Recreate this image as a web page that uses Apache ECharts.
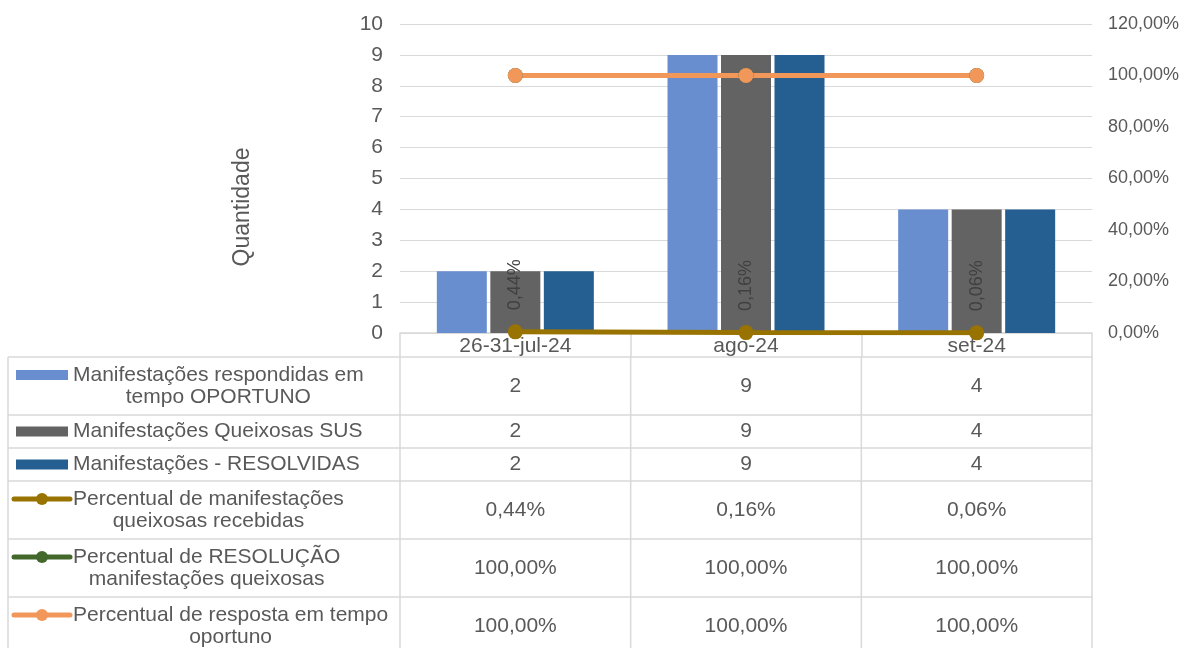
<!DOCTYPE html>
<html><head><meta charset="utf-8">
<script src="https://cdn.jsdelivr.net/npm/echarts@6/dist/echarts.min.js"></script>
<style>html,body{margin:0;padding:0;background:#fff}#c{width:1184px;height:648px}</style>
</head><body><div id="c"></div>
<script>
// ---- data ----
const categories = ['26-31-jul-24', 'ago-24', 'set-24'];
const respondidas = [2, 9, 4];
const queixosas = [2, 9, 4];
const resolvidas = [2, 9, 4];
const pctRecebidas = [0.44, 0.16, 0.06];
const pctResolucao = [100, 100, 100];
const pctResposta = [100, 100, 100];
const seriesNames = [
  'Manifestações respondidas em\ntempo OPORTUNO',
  'Manifestações Queixosas SUS',
  'Manifestações - RESOLVIDAS',
  'Percentual de manifestações\nqueixosas recebidas',
  'Percentual de RESOLUÇÃO\nmanifestações queixosas',
  'Percentual de resposta em tempo\noportuno'
];
const axisTitle = 'Quantidade';

// ---- style ----
const FONT = "'Liberation Sans', Arial, sans-serif";
const TXT = '#595959';
const GRID = '#d9d9d9';
const colors = ['#698ed0', '#636363', '#255e91', '#997300', '#43682b', '#f1975a'];
const kinds = ['bar', 'bar', 'bar', 'line', 'line', 'line'];
const values = [respondidas, queixosas, resolvidas, pctRecebidas, pctResolucao, pctResposta];
const pct = v => v.toFixed(2).replace('.', ',') + '%';
const fmt = [String, String, String, pct, pct, pct];

const chart = echarts.init(document.getElementById('c'), null, {renderer: 'canvas'});

const series = values.map((vals, i) => {
  const name = seriesNames[i].replace('\n', ' ');
  if (kinds[i] === 'bar') {
    return {
      type: 'bar', name, data: vals, yAxisIndex: 0,
      barWidth: 50, barGap: '7%',
      itemStyle: {color: colors[i]}
    };
  }
  const s = {
    type: 'line', name, data: vals, yAxisIndex: 1,
    symbol: 'circle', symbolSize: 15,
    lineStyle: {color: colors[i], width: 5},
    itemStyle: {color: colors[i]},
    z: 3
  };
  if (i === 3) {
    s.label = {
      show: true, position: 'top', distance: 14, rotate: 90,
      align: 'left', verticalAlign: 'middle',
      formatter: p => pct(p.value),
      fontFamily: FONT, fontSize: 18, color: '#404040'
    };
  }
  return s;
});

chart.setOption({
  animation: false,
  backgroundColor: '#fff',
  textStyle: {fontFamily: FONT},
  grid: {left: 400, right: 92, top: 24, bottom: 315, containLabel: false},
  xAxis: {
    type: 'category', data: categories,
    axisLine: {show: true, lineStyle: {color: GRID, width: 1.5}},
    axisTick: {show: true, length: 24, interval: 0, lineStyle: {color: GRID, width: 1.5}},
    axisLabel: {fontFamily: FONT, fontSize: 21, color: TXT, margin: 3, interval: 0}
  },
  yAxis: [
    {
      type: 'value', min: 0, max: 10, interval: 1,
      axisLine: {show: false}, axisTick: {show: false},
      splitLine: {show: true, lineStyle: {color: GRID, width: 1}},
      axisLabel: {fontFamily: FONT, fontSize: 21, color: TXT, margin: 17}
    },
    {
      type: 'value', min: 0, max: 120, interval: 20,
      axisLine: {show: false}, axisTick: {show: false},
      splitLine: {show: false},
      axisLabel: {fontFamily: FONT, fontSize: 18, color: TXT, margin: 16, formatter: v => pct(v)}
    }
  ],
  series
});

// ---- data table (legend + values) drawn via graphic, positioned from the axes ----
const c0 = chart.convertToPixel({xAxisIndex: 0}, 0);
const c1 = chart.convertToPixel({xAxisIndex: 0}, 1);
const cw = c1 - c0;
const bounds = [0, 1, 2, 3].map(k => c0 - cw / 2 + k * cw);
const centers = categories.map((c, k) => chart.convertToPixel({xAxisIndex: 0}, k));
const axisY = chart.convertToPixel({yAxisIndex: 0}, 0);
const headerBottom = axisY + 24;
const tableLeft = 8;
const lineH = 22;

const mctx = document.createElement('canvas').getContext('2d');
mctx.font = "21px 'Liberation Sans'";

const g = [];
const lineStyle = {stroke: GRID, lineWidth: 1.5};
let rowY = headerBottom;
seriesNames.forEach((nm, i) => {
  const lines = nm.split('\n');
  const h = lines.length > 1 ? 58 : 33;
  const mid = rowY + h / 2;
  g.push({type: 'line', shape: {x1: tableLeft, y1: rowY, x2: bounds[3], y2: rowY}, style: lineStyle, silent: true});
  const maxW = Math.max(...lines.map(l => mctx.measureText(l).width));
  const tx = 73 + maxW / 2;
  lines.forEach((l, j) => {
    const y = mid + (j - (lines.length - 1) / 2) * lineH;
    g.push({type: 'text', x: tx, y, style: {text: l, fill: TXT, font: "21px 'Liberation Sans'", align: 'center', verticalAlign: 'middle'}, silent: true});
  });
  const keyY = mid - (lines.length - 1) / 2 * lineH;
  if (kinds[i] === 'bar') {
    g.push({type: 'rect', shape: {x: 16, y: keyY - 5, width: 52, height: 10}, style: {fill: colors[i]}, silent: true});
  } else {
    g.push({type: 'line', shape: {x1: 14, y1: keyY, x2: 70, y2: keyY}, style: {stroke: colors[i], lineWidth: 5, lineCap: 'round'}, silent: true});
    g.push({type: 'circle', shape: {cx: 42, cy: keyY, r: 6}, style: {fill: colors[i]}, silent: true});
  }
  values[i].forEach((v, k) => {
    g.push({type: 'text', x: centers[k], y: mid, style: {text: fmt[i](v), fill: TXT, font: "21px 'Liberation Sans'", align: 'center', verticalAlign: 'middle'}, silent: true});
  });
  rowY += h;
});
g.push({type: 'line', shape: {x1: tableLeft, y1: rowY, x2: bounds[3], y2: rowY}, style: lineStyle, silent: true});
[tableLeft].concat(bounds).forEach(x => {
  g.push({type: 'line', shape: {x1: x, y1: headerBottom, x2: x, y2: rowY}, style: lineStyle, silent: true});
});
g.push({type: 'text', x: 243, y: 207, rotation: Math.PI / 2,
  style: {text: axisTitle, fill: TXT, font: "23px 'Liberation Sans'", align: 'center', verticalAlign: 'middle'}, silent: true});

chart.setOption({graphic: {elements: g}});
</script>
</body></html>
